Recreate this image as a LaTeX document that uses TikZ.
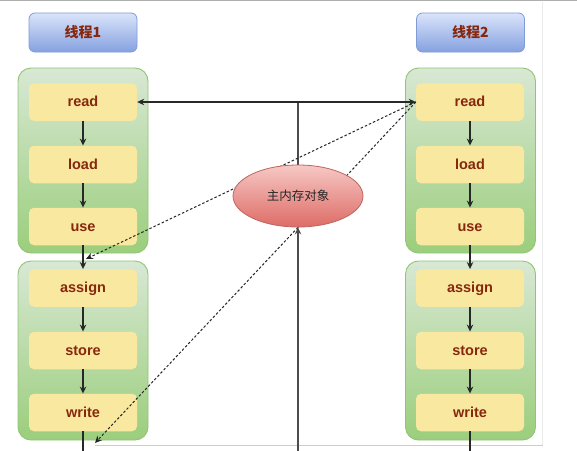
\documentclass[tikz,border=0pt]{standalone}
\usepackage{fontspec}
\setmainfont{Liberation Sans}
\newfontfamily\cjk{Noto Sans CJK SC}
\usetikzlibrary{arrows.meta,shapes.geometric}
\pgfdeclarelayer{fg}
\pgfsetlayers{main,fg}
\definecolor{txt}{RGB}{135,40,14}
\definecolor{hdrT}{RGB}{218,228,250}
\definecolor{hdrBot}{RGB}{133,161,224}
\definecolor{hdrB}{RGB}{128,155,214}
\definecolor{conT}{RGB}{216,232,212}
\definecolor{conBot}{RGB}{155,206,124}
\definecolor{conB}{RGB}{146,196,118}
\definecolor{opF}{RGB}{249,232,160}
\definecolor{memT}{RGB}{246,200,197}
\definecolor{memBot}{RGB}{222,108,102}
\definecolor{memB}{RGB}{190,100,95}
\definecolor{lnc}{RGB}{40,40,40}
\definecolor{framec}{RGB}{175,175,175}
\begin{document}
\begin{tikzpicture}[x=1pt,y=-1pt,
  hdr/.style={rounded corners=6pt, draw=hdrB, line width=0.8pt, top color=hdrT, bottom color=hdrBot,
    minimum width=108pt, minimum height=39pt, inner sep=0pt,
    font=\cjk\bfseries\fontsize{14}{16}\selectfont, text=txt},
  cont/.style={rounded corners=13pt, draw=conB, line width=0.9pt, top color=conT, bottom color=conBot,
    minimum width=130pt, inner sep=0pt},
  op/.style={rounded corners=5pt, fill=opF, minimum width=108pt, minimum height=37.5pt, inner sep=0pt,
    text height=9.5pt, text depth=0pt,
    font=\bfseries\fontsize{14.5}{16}\selectfont, text=txt},
  memnode/.style={ellipse, draw=memB, line width=0.8pt, top color=memT, bottom color=memBot,
    minimum width=130pt, minimum height=62pt, inner sep=0pt,
    font=\cjk\fontsize{12.5}{14}\selectfont, text=black!85},
  arr/.style={draw=lnc, line width=1.1pt, -{Stealth[length=7pt,width=6.5pt]}},
  ln/.style={draw=lnc, line width=1.1pt},
  midln/.style={draw=black!70, line width=1.5pt},
  midarr/.style={draw=black!70, line width=1.5pt, -{Stealth[length=7pt,width=6.5pt]}},
  dln/.style={draw=black!85, line width=1pt, dash pattern=on 2.5pt off 2pt},
  darr/.style={dln, -{Stealth[length=7pt,width=6.5pt]}},
  framel/.style={draw=framec, line width=1pt}
]
\useasboundingbox (0,0) rectangle (577,450);
\fill[white] (0,0) rectangle (577,450);

% frame lines of the screenshot
\draw[framel] (0,0.6) -- (577,0.6);
\draw[draw=black!8, line width=0.8pt] (542,2) -- (542,445);
\draw[draw=black!20, line width=0.8pt] (95,445.5) -- (543,445.5);

% headers
\node[hdr] (h1) at (83,32.5) {线程1};
\node[hdr] (h2) at (470.5,32.5) {线程2};

% containers
\node[cont, minimum height=185pt] (c1a) at (83,160.5) {};
\node[cont, minimum height=179pt] (c1b) at (83,350.5) {};
\node[cont, minimum height=185pt] (c2a) at (470.5,160.5) {};
\node[cont, minimum height=179pt] (c2b) at (470.5,350.5) {};

% operations thread 1
\node[op] (read1) at (83,102) {read};
\node[op] (load1) at (83,164.5) {load};
\node[op] (use1) at (83,226.5) {use};
\node[op] (assign1) at (83,288) {assign};
\node[op] (store1) at (83,350.5) {store};
\node[op] (write1) at (83,412.5) {write};

% operations thread 2
\node[op] (read2) at (470,102) {read};
\node[op] (load2) at (470,164.5) {load};
\node[op] (use2) at (470,226.5) {use};
\node[op] (assign2) at (470,288) {assign};
\node[op] (store2) at (470,350.5) {store};
\node[op] (write2) at (470,412.5) {write};

% main memory object (drawn above the lines)
\begin{pgfonlayer}{fg}
\node[memnode] (mem) at (298,196) {主内存对象};
\end{pgfonlayer}

% free ends
\coordinate (j) at (298,102);
\coordinate (mb) at (298,452);
\coordinate (e1) at (83,452);
\coordinate (e2) at (470,452);
\coordinate (d1) at (86,259);
\coordinate (d2) at (95,443);

% flow arrows thread 1
\draw[arr] (read1) -- (load1);
\draw[arr] (load1) -- (use1);
\draw[arr] (use1) -- (assign1);
\draw[arr] (assign1) -- (store1);
\draw[arr] (store1) -- (write1);
\draw[ln] (write1) -- (e1);

% flow arrows thread 2
\draw[arr] (read2) -- (load2);
\draw[arr] (load2) -- (use2);
\draw[arr] (use2) -- (assign2);
\draw[arr] (assign2) -- (store2);
\draw[arr] (store2) -- (write2);
\draw[ln] (write2) -- (e2);

% main memory connections
\draw[midln] (mem.north) -- (j);
\draw[arr] (j) -- (read1.east);
\draw[arr] (j) -- (read2.west);
\draw[midarr] (mb) -- (mem.south);

% dashed connectors
\draw[darr] (read2.west) -- (d1);
\draw[dln] (read2.west) -- (mem.south);
\draw[darr] (mem.south) -- (d2);
\end{tikzpicture}
\end{document}
